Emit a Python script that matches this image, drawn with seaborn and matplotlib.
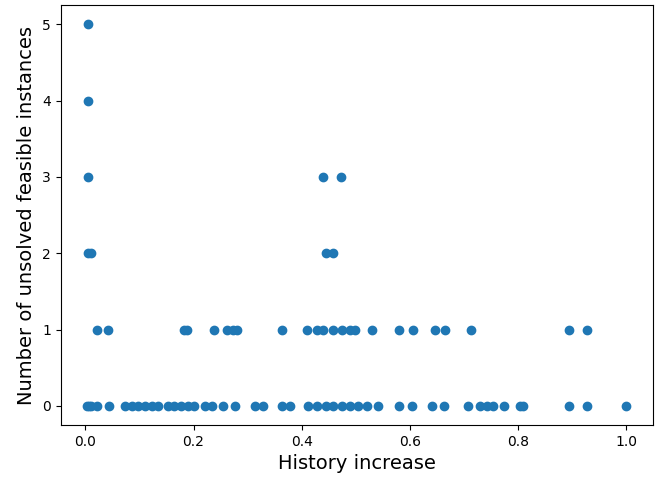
import matplotlib
matplotlib.use("Agg")
import matplotlib.pyplot as plt
import seaborn as sns
import pandas as pd

# x values (history increase) for each level of unsolved feasible instances
x_zero = [0.004, 0.006, 0.01, 0.022, 0.043, 0.074, 0.087, 0.098, 0.111, 0.124, 0.135,
          0.152, 0.163, 0.176, 0.189, 0.200, 0.222, 0.235, 0.255, 0.277, 0.314,
          0.329, 0.364, 0.379, 0.412, 0.429, 0.444, 0.458, 0.475, 0.490, 0.503,
          0.521, 0.540, 0.579, 0.604, 0.641, 0.662, 0.708, 0.730, 0.743, 0.754,
          0.773, 0.803, 0.808, 0.893, 0.928, 1.0]
x_one = [0.022, 0.041, 0.183, 0.187, 0.237, 0.261, 0.272, 0.281, 0.364, 0.410, 0.429,
         0.440, 0.457, 0.475, 0.490, 0.499, 0.530, 0.579, 0.606, 0.647, 0.665,
         0.712, 0.893, 0.928]
x_two = [0.005, 0.01, 0.444, 0.458]
x_three = [0.005, 0.44, 0.473]
x_four = [0.005]
x_five = [0.005]

xs = x_zero + x_one + x_two + x_three + x_four + x_five
ys = ([0] * len(x_zero) + [1] * len(x_one) + [2] * len(x_two) +
      [3] * len(x_three) + [4] * len(x_four) + [5] * len(x_five))
df = pd.DataFrame({"History increase": xs, "Unsolved": ys})

fig, ax = plt.subplots(figsize=(6.58, 4.78), dpi=100)
sns.scatterplot(data=df, x="History increase", y="Unsolved", ax=ax,
                color="#1f77b4", edgecolor="#1f77b4", linewidth=1.0, s=36)
ax.set_xlabel("History increase", fontsize=14)
ax.set_ylabel("Number of unsolved feasible instances", fontsize=14)
ax.set_xticks([0.0, 0.2, 0.4, 0.6, 0.8, 1.0])
ax.set_yticks([0, 1, 2, 3, 4, 5])
fig.subplots_adjust(left=0.092, right=0.993, bottom=0.111, top=0.989)
fig.savefig("out.png", dpi=100)
